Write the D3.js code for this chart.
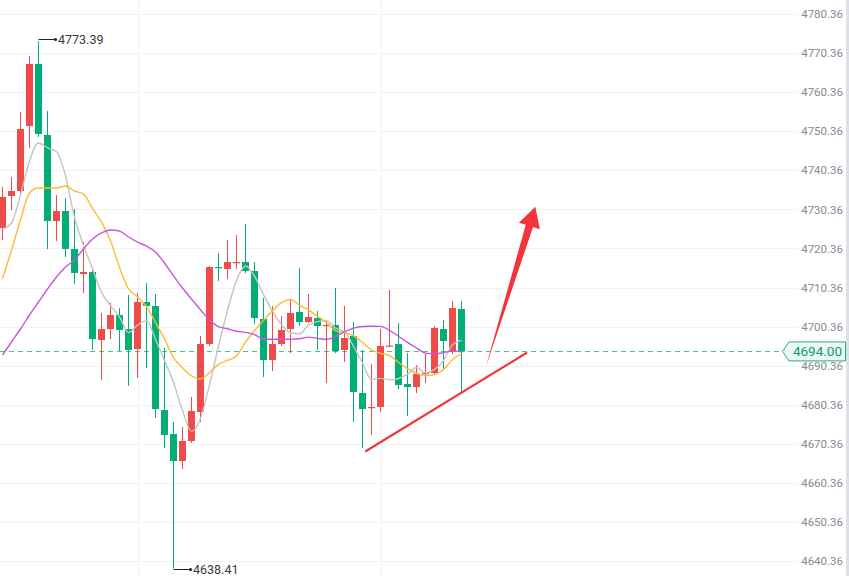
<!DOCTYPE html>
<html><head><meta charset="utf-8">
<script src="https://cdn.jsdelivr.net/npm/d3@7"></script>
<style>html,body{margin:0;padding:0;background:#fff;overflow:hidden}</style>
</head><body><svg id="chart" width="849" height="576"></svg>
<script>
// ---- data ----
const openP = [4725.59,4733.78,4735.06,4751.69,4767.56,4749.39,4727.38,4729.94,4720.21,4713.81,
 4714.32,4696.92,4699.73,4703.32,4699.73,4694.62,4706.65,4705.62,4679.00,4672.86,
 4665.95,4671.07,4678.49,4695.89,4715.60,4715.09,4716.63,4716.88,4714.58,4702.29,
 4691.80,4695.89,4699.73,4704.09,4701.53,4702.55,4700.50,4700.76,4694.36,4697.94,
 4683.35,4679.51,4679.77,4695.26,4695.89,4685.65,4684.88,4688.35,4688.47,4699.73,
 4693.85,4704.86];
const highP = [4736.08,4738.63,4755.28,4769.61,4773.39,4755.53,4734.03,4733.26,4730.45,4722.01,
 4714.84,4703.83,4706.39,4705.11,4708.44,4708.95,4711.51,4708.69,4694.87,4675.93,
 4674.65,4682.33,4697.94,4715.86,4719.18,4722.52,4723.79,4726.61,4716.88,4707.67,
 4705.62,4703.06,4707.16,4715.35,4708.69,4704.35,4701.78,4710.23,4705.62,4701.53,
 4694.36,4690.78,4699.73,4709.72,4701.27,4693.59,4690.52,4693.34,4700.50,4702.04,
 4706.90,4706.90];
const lowP = [4722.51,4730.19,4734.54,4746.06,4748.88,4720.21,4722.26,4718.17,4711.25,4708.95,
 4694.36,4686.68,4697.17,4694.10,4685.15,4687.19,4689.75,4676.96,4669.27,4638.41,
 4663.91,4670.56,4675.93,4695.38,4712.02,4712.53,4715.09,4714.07,4701.02,4687.45,
 4688.98,4695.38,4693.59,4700.50,4701.27,4694.36,4685.91,4693.59,4691.29,4675.93,
 4669.28,4672.60,4678.49,4695.13,4684.37,4677.47,4683.35,4685.91,4688.20,4689.50,
 4693.34,4683.61];
const closeP = [4733.52,4735.06,4750.93,4767.56,4749.65,4727.38,4729.94,4720.21,4714.07,4714.32,
 4697.17,4699.73,4703.32,4699.48,4694.36,4706.65,4705.62,4679.26,4672.60,4665.95,
 4671.07,4678.75,4695.89,4715.60,4715.35,4716.88,4716.88,4714.58,4702.55,4691.80,
 4695.89,4699.48,4703.83,4701.53,4702.81,4700.50,4700.76,4694.10,4697.43,4683.61,
 4679.26,4679.77,4695.38,4695.51,4685.40,4684.88,4688.22,4688.47,4699.99,4696.66,
 4705.11,4694.00];
const ma5 = [4725.33,4726.87,4734.03,4742.74,4747.34,4746.11,4745.09,4738.95,4728.25,4721.18,
 4715.14,4709.10,4705.73,4702.81,4698.81,4700.71,4701.89,4697.07,4691.70,4686.02,
 4678.90,4673.53,4676.85,4685.45,4695.33,4704.50,4712.12,4715.86,4713.25,4708.54,
 4704.34,4700.86,4698.71,4698.51,4700.71,4701.63,4701.89,4699.94,4699.12,4695.28,
 4691.03,4686.84,4687.09,4686.71,4687.07,4688.19,4689.88,4688.50,4689.40,4691.65,
 4695.69,4696.84];
const ma10 = [4712.53,4719.96,4727.63,4734.55,4735.82,4735.82,4735.82,4736.34,4735.06,4734.26,
 4730.63,4727.10,4722.34,4715.53,4710.00,4707.93,4705.49,4701.40,4697.25,4692.42,
 4689.81,4687.71,4686.96,4688.58,4690.68,4691.70,4692.83,4696.36,4699.35,4701.94,
 4704.42,4706.49,4707.29,4705.88,4704.62,4702.99,4701.37,4699.33,4698.81,4698.00,
 4696.33,4694.36,4693.52,4692.91,4691.17,4689.61,4688.36,4687.80,4688.05,4689.36,
 4691.94,4693.36];
const ma20 = [4693.08,4696.41,4699.74,4703.32,4706.65,4709.97,4713.05,4715.60,4717.40,4720.21,
 4722.77,4724.31,4725.07,4724.82,4723.28,4722.00,4720.98,4719.44,4716.63,4713.34,
 4710.22,4707.40,4704.65,4702.05,4700.34,4699.81,4699.16,4698.88,4698.30,4697.18,
 4697.11,4697.10,4697.13,4697.23,4697.65,4697.34,4697.10,4697.84,4699.08,4699.97,
 4700.38,4700.43,4700.40,4699.40,4697.89,4696.31,4694.87,4693.57,4693.44,4693.67,
 4694.13,4693.87];
const yTickLabels = ["4780.36","4770.36","4760.36","4750.36","4740.36","4730.36","4720.36",
 "4710.36","4700.36","4690.36","4680.36","4670.36","4660.36","4650.36","4640.36"];
const lastPriceLabel = "4694.00";
const highMark = {index: 4, label: "4773.39"};
const lowMark = {index: 19, label: "4638.41"};
const timeGridIndex = [15, 42];
// drawn annotations, in data coordinates (candle index, price)
const trendIdx = [40.4, 58.2];
const trendVal = [4668.5, 4693.6];
const arrowIdx = [53.7, 59.2];
const arrowVal = [4690.0, 4731.0];

// ---- chart ----
const W = 849, H = 576;
const svg = d3.select("#chart");
const n = openP.length;
const x = d3.scaleBand().domain(d3.range(n)).range([-2, -2 + 9 * n])
  .paddingInner(0.22).paddingOuter(0.11);
const step = x.step();
const cx = i => x(0) + x.bandwidth() / 2 + i * step; // works for fractional index
const y = d3.scaleLinear().domain([4640.36, 4780.36]).range([561, 14]);
const tickVals = yTickLabels.map(Number);

const UP = "#ee4b4b", DOWN = "#02ae76";

// grid
const grid = svg.append("g");
grid.selectAll("line.h").data(tickVals).join("line")
  .attr("x1", 0).attr("x2", 798)
  .attr("y1", d => Math.round(y(d)) + 0.5).attr("y2", d => Math.round(y(d)) + 0.5)
  .attr("stroke", "#f1f2f4").attr("stroke-width", 1);
grid.selectAll("line.v").data(timeGridIndex).join("line")
  .attr("x1", d => Math.round(cx(d)) + 0.5).attr("x2", d => Math.round(cx(d)) + 0.5)
  .attr("y1", 0).attr("y2", H)
  .attr("stroke", "#f1f2f4").attr("stroke-width", 1);

// right axis labels
const axis = d3.axisRight(y).tickValues(tickVals).tickFormat((d, i) => yTickLabels[i]).tickSize(0);
const ag = svg.append("g").attr("transform", "translate(843,0)").call(axis);
ag.select(".domain").remove();
ag.selectAll("text").attr("x", 0).attr("text-anchor", "end")
  .attr("fill", "#858a94").style("font-family", "Roboto, 'Noto Sans', sans-serif")
  .style("font-size", "11.5px");

// right edge bar
svg.append("rect").attr("x", 846).attr("y", 0).attr("width", 3).attr("height", H).attr("fill", "#dde0e8");

// last price dashed line
const lastVal = +lastPriceLabel;
const ly = Math.round(y(lastVal)) + 0.5;
svg.append("line").attr("x1", 0).attr("x2", 782).attr("y1", ly).attr("y2", ly)
  .attr("stroke", "#1fbf82").attr("stroke-opacity", 0.85).attr("stroke-width", 1.2)
  .attr("stroke-dasharray", "5,4");

// candles
const data = d3.range(n).map(i => ({i, o: openP[i], h: highP[i], l: lowP[i], c: closeP[i]}));
const cg = svg.append("g");
cg.selectAll("line.wick").data(data).join("line")
  .attr("x1", d => cx(d.i)).attr("x2", d => cx(d.i))
  .attr("y1", d => y(d.h)).attr("y2", d => y(d.l))
  .attr("stroke", d => d.c >= d.o ? UP : DOWN).attr("stroke-width", 1);
cg.selectAll("rect.body").data(data).join("rect")
  .attr("x", d => x(d.i)).attr("width", x.bandwidth())
  .attr("y", d => y(Math.max(d.o, d.c)))
  .attr("height", d => Math.max(1.2, Math.abs(y(d.o) - y(d.c))))
  .attr("fill", d => d.c >= d.o ? UP : DOWN);

// moving averages
const lineGen = d3.line().x((d, i) => cx(i)).y(d => y(d)).curve(d3.curveMonotoneX);
[[ma5, "#c4c4c4"], [ma10, "#fbbb35"], [ma20, "#c656dc"]].forEach(([arr, col]) => {
  svg.append("path").attr("d", lineGen(arr)).attr("fill", "none")
    .attr("stroke", col).attr("stroke-width", 1.4);
});

// high / low markers
function marker(m, val, off) {
  const x0 = cx(m.index), yy = Math.round(y(val)) + 0.5 + off;
  const g = svg.append("g");
  g.append("line").attr("x1", x0).attr("x2", x0 + 17).attr("y1", yy).attr("y2", yy)
    .attr("stroke", "#222").attr("stroke-width", 1);
  g.append("circle").attr("cx", x0 + 17).attr("cy", yy).attr("r", 1.6).attr("fill", "#222");
  g.append("text").attr("x", x0 + 19.5).attr("y", yy).attr("dy", "0.35em")
    .attr("fill", "#3a3a3a").style("font-family", "Roboto, 'Noto Sans', sans-serif")
    .style("font-size", "12.5px").text(m.label);
}
marker(highMark, highP[highMark.index], -2);
marker(lowMark, lowP[lowMark.index], 0);

// red trend line
svg.append("line")
  .attr("x1", cx(trendIdx[0])).attr("y1", y(trendVal[0]))
  .attr("x2", cx(trendIdx[1])).attr("y2", y(trendVal[1]))
  .attr("stroke", "#f2373a").attr("stroke-width", 2.2).attr("stroke-linecap", "round");

// red arrow
(function () {
  const T = [cx(arrowIdx[0]), y(arrowVal[0])], P = [cx(arrowIdx[1]), y(arrowVal[1])];
  const dx = P[0] - T[0], dy = P[1] - T[1], L = Math.hypot(dx, dy);
  const u = [dx / L, dy / L], nn = [-u[1], u[0]];
  const hl = 20, hw = 11, sw = 3.8;
  const B = [P[0] - hl * u[0], P[1] - hl * u[1]];
  const pts = [
    T,
    [B[0] - sw * nn[0], B[1] - sw * nn[1]],
    [B[0] - hw * nn[0], B[1] - hw * nn[1]],
    P,
    [B[0] + hw * nn[0], B[1] + hw * nn[1]],
    [B[0] + sw * nn[0], B[1] + sw * nn[1]]
  ];
  svg.append("path").attr("d", "M" + pts.map(p => p.join(",")).join("L") + "Z")
    .attr("fill", "#f5333a");
})();

// last price label
(function () {
  const cy = y(lastVal);
  const left = 782.5, bx = 789, right = 845.5, top = cy - 9.5, bot = cy + 9.5;
  svg.append("path")
    .attr("d", `M${left},${cy}L${bx},${top}L${right},${top}L${right},${bot}L${bx},${bot}Z`)
    .attr("fill", "#ecf8f3").attr("stroke", "#2aab7e").attr("stroke-width", 1);
  svg.append("text").attr("x", 842).attr("y", cy).attr("dy", "0.36em").attr("text-anchor", "end")
    .attr("fill", "#139a6b").style("font-family", "Roboto, 'Noto Sans', sans-serif")
    .style("font-size", "13.5px").text(lastPriceLabel);
})();
</script></body></html>
